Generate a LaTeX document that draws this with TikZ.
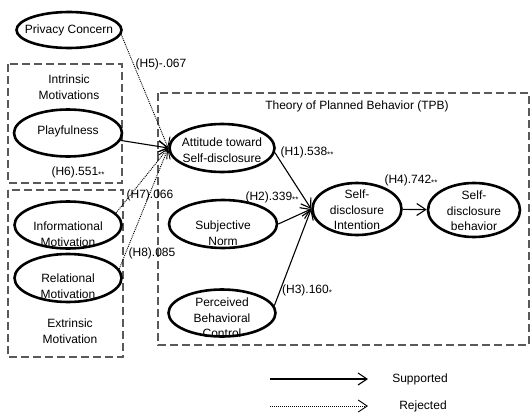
\documentclass[tikz,border=0pt]{standalone}
\usepackage{fontspec}
\setmainfont{Liberation Sans}
\usetikzlibrary{shapes.geometric, arrows.meta}
\newcommand{\sig}[1]{\raisebox{-0.3ex}{\footnotesize #1}}
\tikzstyle{every node}=[font=\fontsize{12}{15.5}\selectfont, align=center, inner sep=1pt]
\tikzstyle{construct}=[ellipse, draw, line width=2.6pt, inner sep=0pt]
\tikzstyle{group}=[draw=black!65, line width=2.4pt, dash pattern=on 8pt off 4pt]
\tikzstyle{supported}=[-{Straight Barb[length=9pt, width=12pt]}, line width=1.1pt]
\tikzstyle{rejected}=[supported, line width=0.9pt, dash pattern=on 1pt off 1pt]

\begin{document}
\begin{tikzpicture}[x=1pt, y=-1pt]
\useasboundingbox (0,0) rectangle (532,415);
% Groups
    \draw[group] (8,64) rectangle (122,183);
    \draw[group] (8,190) rectangle (123,357);
    \draw[group] (158,93) rectangle (529,345);
    \node (intrinsic) at (69,87) {Intrinsic\\Motivations};
    \node (extrinsic) at (70,331) {Extrinsic\\Motivation};
    \node (tpb) at (357,106) {Theory of Planned Behavior (TPB)};
% Constructs
    \node[construct, minimum width=105pt, minimum height=36pt,
        label={center:Privacy Concern}] (priv) at (69,30) {};
    \node[construct, minimum width=108pt, minimum height=47pt,
        label={[yshift=2pt]center:Playfulness}] (play) at (68,133) {};
    \node[construct, minimum width=107pt, minimum height=47pt,
        label={[yshift=-9pt]center:Informational\\Motivation}] (info) at (68,225) {};
    \node[construct, minimum width=107pt, minimum height=48pt,
        label={[yshift=-8pt]center:Relational\\Motivation}] (rel) at (68,278) {};
    \node[construct, minimum width=105pt, minimum height=48pt,
        label={[yshift=-2pt]center:Attitude toward\\Self-disclosure}] (att) at (222,148) {};
    \node[construct, minimum width=108pt, minimum height=48pt,
        label={[yshift=-9pt]center:Subjective\\Norm}] (subj) at (223,224) {};
    \node[construct, minimum width=107pt, minimum height=47pt,
        label={[yshift=-5pt]center:Perceived\\Behavioral\\Control}] (perc) at (222,313) {};
    \node[construct, minimum width=89pt, minimum height=52pt,
        label={[yshift=-1pt]center:Self-\\disclosure\\Intention}] (intent) at (357,209) {};
    \node[construct, minimum width=92pt, minimum height=54pt,
        label={[yshift=-1pt]center:Self-\\disclosure\\behavior}] (behav) at (474,210) {};
% Paths
    \draw[rejected] (priv.-5) -- (att.west);
    \draw[supported] (play.-8) -- (att.west);
    \draw[rejected] (info.14) -- (att.west);
    \draw[rejected] (rel.10) -- (att.west);
    \draw[supported] (att.-5) -- (intent.west);
    \draw[supported] (subj.east) -- (intent.west);
    \draw[supported] (perc.8) -- (intent.west);
    \draw[supported] (intent) -- (behav);
% Coefficients
    \node (h5) at (161,64) {(H5)-.067};
    \node (h6) at (78,172) {(H6).551\sig{**}};
    \node (h7) at (150,195) {(H7).066};
    \node (h8) at (152,253) {(H8).085};
    \node (h1) at (307,152) {(H1).538\sig{**}};
    \node (h2) at (272,197) {(H2).339\sig{**}};
    \node (h3) at (307,290) {(H3).160\sig{*}};
    \node (h4) at (411,180) {(H4).742\sig{**}};
% Legend
    \coordinate (s0) at (270,379);
    \coordinate (s1) at (368,379);
    \coordinate (r0) at (270,406);
    \coordinate (r1) at (368,406);
    \draw[supported] (s0) -- (s1);
    \draw[rejected] (r0) -- (r1);
    \node (sup) at (420,379) {Supported};
    \node (rej) at (423,406) {Rejected};
\end{tikzpicture}
\end{document}
